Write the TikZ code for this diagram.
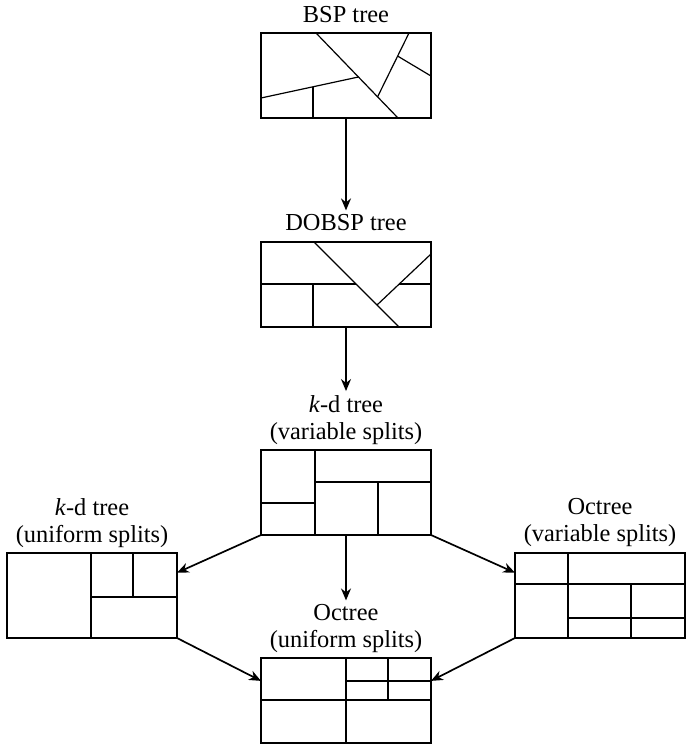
\documentclass[tikz,border=0pt]{standalone}
\usepackage{fontspec}
\setmainfont{Liberation Serif}
\usetikzlibrary{arrows.meta,positioning}

\begin{document}
\begin{tikzpicture}[
  x=0.5pt,y=-0.5pt,
  box/.style={draw,line width=1pt,minimum width=85pt,minimum height=42.5pt,inner sep=0pt,outer sep=0pt},
  ttl/.style={align=center,inner sep=2pt,font=\fontsize{12.2}{13.5}\selectfont},
  cut/.style={line width=0.6pt},
  arr/.style={-{Stealth[length=6pt,width=5pt]},line width=0.85pt}
]
\useasboundingbox (0,0) rectangle (686,744);

% the partitioned regions
\node[box] (bsp)   at (346,75.5)  {};
\node[box] (dobsp) at (346,284.5) {};
\node[box] (kdv)   at (346,492.5) {};
\node[box] (kdu)   at (92,595.5)  {};
\node[box] (octv)  at (600,595.5) {};
\node[box] (octu)  at (346,700.5) {};

% titles
\node[ttl] (bsptitle)   at (346,15)  {BSP tree};
\node[ttl] (dobsptitle) at (346,223) {DOBSP tree};
\node[ttl] (kdvtitle)   at (346,420) {\textit{k}-d tree\\(variable splits)};
\node[ttl] (kdutitle)   at (92,523)  {\textit{k}-d tree\\(uniform splits)};
\node[ttl] (octvtitle)  at (600,523) {Octree\\(variable splits)};
\node[ttl] (octutitle)  at (346,629) {Octree\\(uniform splits)};

% splits inside each region
\begin{scope}[shift={(bsp.north west)}]
  \draw[cut] (55,0) -- (137,85);
  \draw[cut] (148,0) -- (116.5,64);
  \draw[cut] (136.5,23) -- (170,43);
  \draw[cut] (0,65) -- (97.4,44);
  \draw[cut] (52,53.8) -- (52,85);
\end{scope}
\begin{scope}[shift={(dobsp.north west)}]
  \draw[cut] (53,0) -- (138,85);
  \draw[cut] (170,12) -- (116,63);
  \draw[cut] (0,42) -- (95,42);
  \draw[cut] (138.2,42) -- (170,42);
  \draw[cut] (52,42) -- (52,85);
\end{scope}
\begin{scope}[shift={(kdv.north west)}]
  \draw[cut] (54,0) -- (54,85);
  \draw[cut] (0,53) -- (54,53);
  \draw[cut] (54,32) -- (170,32);
  \draw[cut] (117,32) -- (117,85);
\end{scope}
\begin{scope}[shift={(kdu.north west)}]
  \draw[cut] (84,0) -- (84,85);
  \draw[cut] (84,44) -- (170,44);
  \draw[cut] (126,0) -- (126,44);
\end{scope}
\begin{scope}[shift={(octv.north west)}]
  \draw[cut] (0,31) -- (170,31);
  \draw[cut] (53,0) -- (53,85);
  \draw[cut] (116,31) -- (116,85);
  \draw[cut] (53,65) -- (170,65);
\end{scope}
\begin{scope}[shift={(octu.north west)}]
  \draw[cut] (0,42) -- (170,42);
  \draw[cut] (85,0) -- (85,85);
  \draw[cut] (127,0) -- (127,42);
  \draw[cut] (85,23) -- (170,23);
\end{scope}

% derivations
\draw[arr] (bsp) -- (dobsptitle);
\draw[arr] (dobsp) -- (kdvtitle);
\draw[arr] (kdv) -- (octutitle);
\draw[arr] (kdv.south west) -- (kdu.15);
\draw[arr] (kdv.south east) -- (octv.165);
\draw[arr] (kdu.south east) -- (octu.167);
\draw[arr] (octv.south west) -- (octu.13);
\end{tikzpicture}
\end{document}
